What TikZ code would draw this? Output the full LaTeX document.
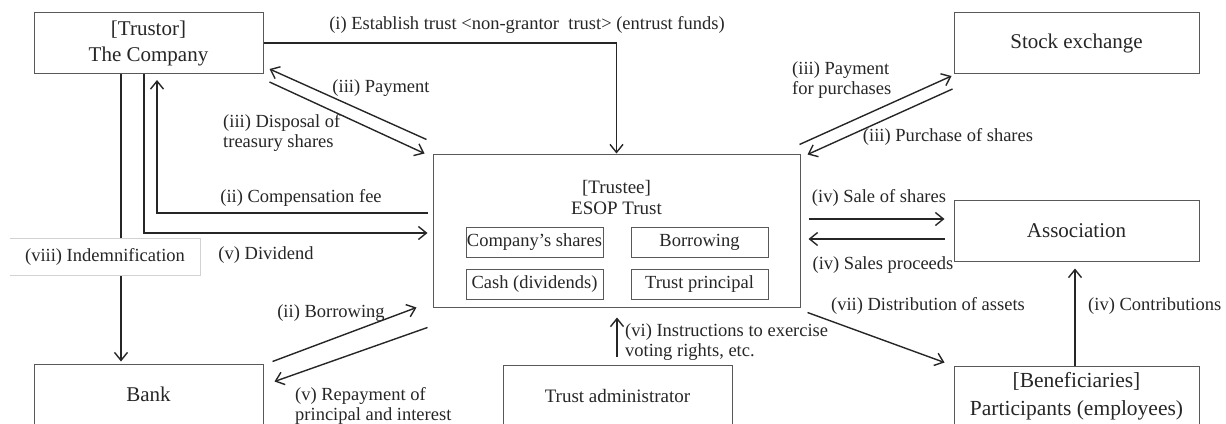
\documentclass[tikz,border=0pt]{standalone}
\usepackage{fontspec}
\setmainfont{Liberation Serif}
\usetikzlibrary{arrows.meta,calc}

\begin{document}
\begin{tikzpicture}[x=1pt,y=-1pt,>={Straight Barb[length=8pt,width=13pt]},
    text=black!85,font=\fontsize{18.5}{20}\selectfont,
    party/.style={draw=black!65,line width=1pt,minimum width=229pt,minimum height=61pt,
        align=center,font=\fontsize{21}{26}\selectfont},
    asset/.style={draw=black!65,line width=1pt,minimum width=137pt,minimum height=30pt,inner xsep=0pt},
    flow/.style={->,line width=1.4pt,draw=black!85},
    lbl/.style={inner sep=0pt,align=left}]
    \useasboundingbox (0,0) rectangle (1226,423);

    % parties
    \node [party] (company) at (148.5,43) {[Trustor]\\The Company};
    \node [party,minimum width=245pt] (stock) at (1076.5,43) {Stock exchange};
    \node [party,minimum width=245pt] (assoc) at (1076.5,230.5) {Association};
    \node [party] (bank) at (148.5,394.5) {Bank};
    \node [party,font=\fontsize{19}{21}\selectfont] (admin) at (617.5,395.5) {Trust administrator};
    \node [party,minimum width=245pt,font=\fontsize{21.5}{28}\selectfont] (benef) at (1076.5,396.5)
        {[Beneficiaries]\\Participants (employees)};

    % the trust and what it holds
    \node [party,minimum width=367pt,minimum height=153pt] (esop) at (616.5,230.5) {};
    \node [align=center,font=\fontsize{19}{21}\selectfont] (trustee) at (616.5,197.5) {[Trustee]\\ESOP Trust};
    \node [asset] (shares) at (534.5,242) {Company’s shares};
    \node [asset] (loan) at (699.5,242) {Borrowing};
    \node [asset] (cash) at (534.5,284) {Cash (dividends)};
    \node [asset] (principal) at (699.5,284) {Trust principal};

    % company <-> trust
    \draw [flow] (company.east) -| (esop.north);
    \node [lbl] (lEstablish) at (527,25) {(i) Establish trust <non-grantor\ \ trust> (entrust funds)};
    \draw [flow] ($(esop.north west)+(-6,-14)$) -- ($(company.south east)+(6,-5)$);
    \node [lbl] (lPayment) at (381,88) {(iii) Payment};
    \draw [flow] ($(company.south east)+(6,8)$) -- ($(esop.north west)+(-8,0)$);
    \node [lbl] (lDisposal) at (223,133) [anchor=west] {(iii) Disposal of\\treasury shares};
    \draw [flow] ($(esop.west)+(-5,-17.5)$) -| ($(company.south)+(8.5,6)$);
    \node [lbl] (lFee) at (301,198) {(ii) Compensation fee};
    \draw [flow] ($(company.south)+(-4.5,0)$) |- ($(esop.west)+(-5,2.5)$);
    \node [lbl] (lDividend) at (266,255) {(v) Dividend};

    % company -> bank
    \draw [flow] ($(company.south)+(-27.5,0)$) -- ($(bank.north)+(-27.5,-2)$);
    \node [fill=white,minimum width=190pt,minimum height=36pt] (indem) at (105,257) {(viii) Indemnification};
    \draw [gray!35,line width=1pt] (indem.north west) -- (indem.north east) -- (indem.south east) -- (indem.south west);

    % bank <-> trust
    \draw [flow] ($(bank.north east)+(9,-2)$) -- ($(esop.south west)+(-16,0)$);
    \node [lbl] (lBorrow) at (331,313) {(ii) Borrowing};
    \draw [flow] ($(esop.south west)+(-5,20)$) -- ($(bank.north east)+(11,18)$);
    \node [lbl,anchor=west] (lRepay) at (295,406) {(v) Repayment of\\principal and interest};

    % stock exchange <-> trust
    \draw [flow] ($(esop.north east)+(-1,-9)$) -- ($(stock.south west)+(-2,2)$);
    \node [lbl,anchor=west] (lPurchPay) at (792,80) {(iii) Payment\\for purchases};
    \draw [flow] ($(stock.south west)+(-1,15)$) -- ($(esop.north east)+(7,1)$);
    \node [lbl] (lPurchase) at (948,137) {(iii) Purchase of shares};

    % association <-> trust
    \draw [flow] ($(esop.east)+(8,-11.5)$) -- ($(assoc.west)+(-9,-11.5)$);
    \node [lbl] (lSale) at (879,198) {(iv) Sale of shares};
    \draw [flow] ($(assoc.west)+(-9,8.5)$) -- ($(esop.east)+(8,8.5)$);
    \node [lbl] (lProceeds) at (883,265) {(iv) Sales proceeds};

    % beneficiaries
    \draw [flow] ($(esop.south east)+(7,5)$) -- ($(benef.north west)+(-9,-3)$);
    \node [lbl] (lDistrib) at (928,306) {(vii) Distribution of assets};
    \draw [flow] ($(benef.north)+(-1.5,0)$) -- ($(assoc.south)+(-1.5,7)$);
    \node [lbl,anchor=west] (lContrib) at (1088,306) {(iv) Contributions};

    % administrator -> trust
    \draw [flow] ($(admin.north)+(-0.5,-8)$) -- ($(esop.south)+(0.5,10)$);
    \node [lbl,anchor=west] (lVoting) at (625,342) {(vi) Instructions to exercise\\voting rights, etc.};
\end{tikzpicture}
\end{document}
